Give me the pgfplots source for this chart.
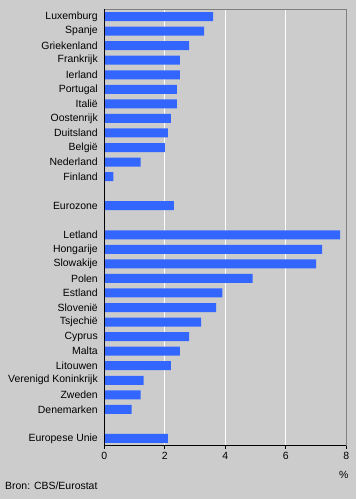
\documentclass[border=0pt]{standalone}
\usepackage{pgfplots}
\pgfplotsset{compat=1.18}
\usepackage{fontspec}
\setmainfont{Liberation Sans}
\definecolor{bg}{HTML}{CCCCCC}
\definecolor{barblue}{HTML}{3366FF}
\definecolor{framegray}{HTML}{808080}
\pgfplotstableread{
pos val
0 3.6
1 3.3
2 2.8
3 2.5
4 2.5
5 2.4
6 2.4
7 2.2
8 2.1
9 2.0
10 1.2
11 0.3
13 2.3
15 7.8
16 7.2
17 7.0
18 4.9
19 3.9
20 3.7
21 3.2
22 2.8
23 2.5
24 2.2
25 1.3
26 1.2
27 0.9
29 2.1
}\datatable
\begin{document}
\begin{tikzpicture}[x=1bp,y=1bp]
\fill[bg] (0,0) rectangle (356,-499);
\begin{axis}[
  at={(104.3bp,-445.7bp)}, anchor=south west,
  scale only axis, width=242bp, height=436.4bp,
  xmin=0, xmax=8, ymin=-0.5, ymax=29.5, y dir=reverse,
  xtick={0,2,4,6,8},
  ytick={0,1,2,3,4,5,6,7,8,9,10,11,13,15,16,17,18,19,20,21,22,23,24,25,26,27,29},
  yticklabels={Luxemburg,Spanje,Griekenland,Frankrijk,Ierland,Portugal,Italië,Oostenrijk,Duitsland,België,Nederland,Finland,Eurozone,Letland,Hongarije,Slowakije,Polen,Estland,Slovenië,Tsjechië,Cyprus,Malta,Litouwen,Verenigd Koninkrijk,Zweden,Denemarken,Europese Unie},
  ytick style={draw=none},
  xtick style={black, line width=0.8bp},
  tick align=outside, major tick length=3bp,
  xtick pos=bottom,
  xmajorgrids, grid style={white, line width=1bp},
  axis line style={framegray, line width=1bp},
  tick label style={font=\fontsize{10.5}{12}\selectfont, text=black},
  /pgf/number format/assume math mode=true,
  yticklabel style={xshift=0bp},
  xbar, bar width=9bp, bar shift=0pt,
  clip=false,
]
\addplot[fill=barblue, draw=none] table[x=val, y=pos] {\datatable};
\draw[black, line width=1bp] (axis cs:0,-0.5) -- (axis cs:0,29.5) -- (axis cs:8,29.5);
\end{axis}
\node[anchor=base east, font=\fontsize{10.5}{12}\selectfont] at (352,-478) {\%};
\node[anchor=base west, font=\fontsize{10.5}{12}\selectfont, inner sep=0pt] at (5,-489) {Bron: CBS/Eurostat};
\end{tikzpicture}
\end{document}
